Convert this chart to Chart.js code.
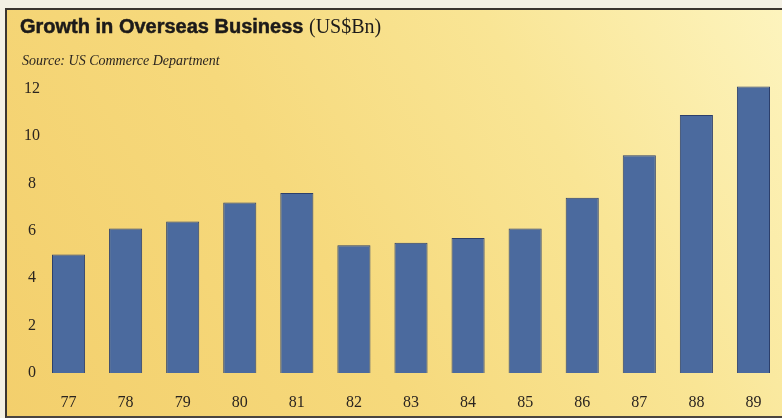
<!DOCTYPE html>
<html>
<head>
<meta charset="utf-8">
<script src="https://cdn.jsdelivr.net/npm/chart.js@4.4.1/dist/chart.umd.min.js"></script>
<style>
  html, body { margin: 0; padding: 0; background: #f3f0e4; }
  #wrap { position: relative; width: 782px; height: 418px; overflow: hidden; }
  #panel {
    position: absolute; left: 5px; top: 8px; width: 777px; height: 406px;
    border-left: 2px solid #3a3530; border-top: 2px solid #3a3530; border-bottom: 2px solid #4a4540;
    background: linear-gradient(60deg, #f3cf6c 0%, #f6d97c 40%, #f9e595 70%, #fdf4be 100%);
  }
  #chart { position: absolute; left: 0; top: 0; }
  .title { position: absolute; left: 20px; top: 15px; white-space: nowrap; color: #1c1a1a;
    font: bold 20px "Liberation Sans", Arial, sans-serif; -webkit-text-stroke: 0.5px #1c1a1a; }
  .title span { font: normal 20px "Liberation Serif", serif; -webkit-text-stroke: 0; }
  .source { position: absolute; left: 22px; top: 53px; white-space: nowrap; color: #2a2420;
    font: italic 14px "Liberation Serif", serif; }
</style>
</head>
<body>
<div id="wrap">
  <div id="panel"></div>
  <canvas id="chart" width="782" height="418"></canvas>
  <div class="title">Growth in Overseas Business <span>(US$Bn)</span></div>
  <div class="source">Source: US Commerce Department</div>
</div>
<script>
// Years shown along the bottom axis
const years = ['77', '78', '79', '80', '81', '82', '83', '84', '85', '86', '87', '88', '89'];
// Overseas business, US$ billions
const businessValues = [5.0, 6.1, 6.4, 7.2, 7.6, 5.4, 5.5, 5.7, 6.1, 7.4, 9.2, 10.9, 12.1];
// Value-axis tick labels
const yTicks = [0, 2, 4, 6, 8, 10, 12];

const tickFont = { family: '"Liberation Serif", serif', size: 16 };

new Chart(document.getElementById('chart'), {
  type: 'bar',
  data: {
    labels: years,
    datasets: [{
      data: businessValues,
      backgroundColor: '#4b6a9e',
      borderColor: '#2c3f6b',
      borderWidth: 1,
      barPercentage: 0.58,
      categoryPercentage: 1.0
    }]
  },
  options: {
    responsive: false,
    animation: false,
    events: [],
    layout: { padding: { top: 77, left: 0, right: 0, bottom: 0 } },
    plugins: { legend: { display: false }, tooltip: { enabled: false } },
    scales: {
      x: {
        grid: { display: false, drawTicks: false },
        border: { display: false },
        ticks: { color: '#2a2420', font: tickFont, padding: 20, maxRotation: 0 },
        afterFit: s => { s.height = 45; }
      },
      y: {
        min: 0,
        max: 12.5,
        grid: { display: false, drawTicks: false },
        border: { display: false },
        ticks: { color: '#2a2420', font: tickFont, padding: 0, crossAlign: 'center', stepSize: 2 },
        afterBuildTicks: s => { s.ticks = yTicks.map(v => ({ value: v })); },
        afterFit: s => { s.width = 40; }
      }
    }
  }
});
</script>
</body>
</html>
